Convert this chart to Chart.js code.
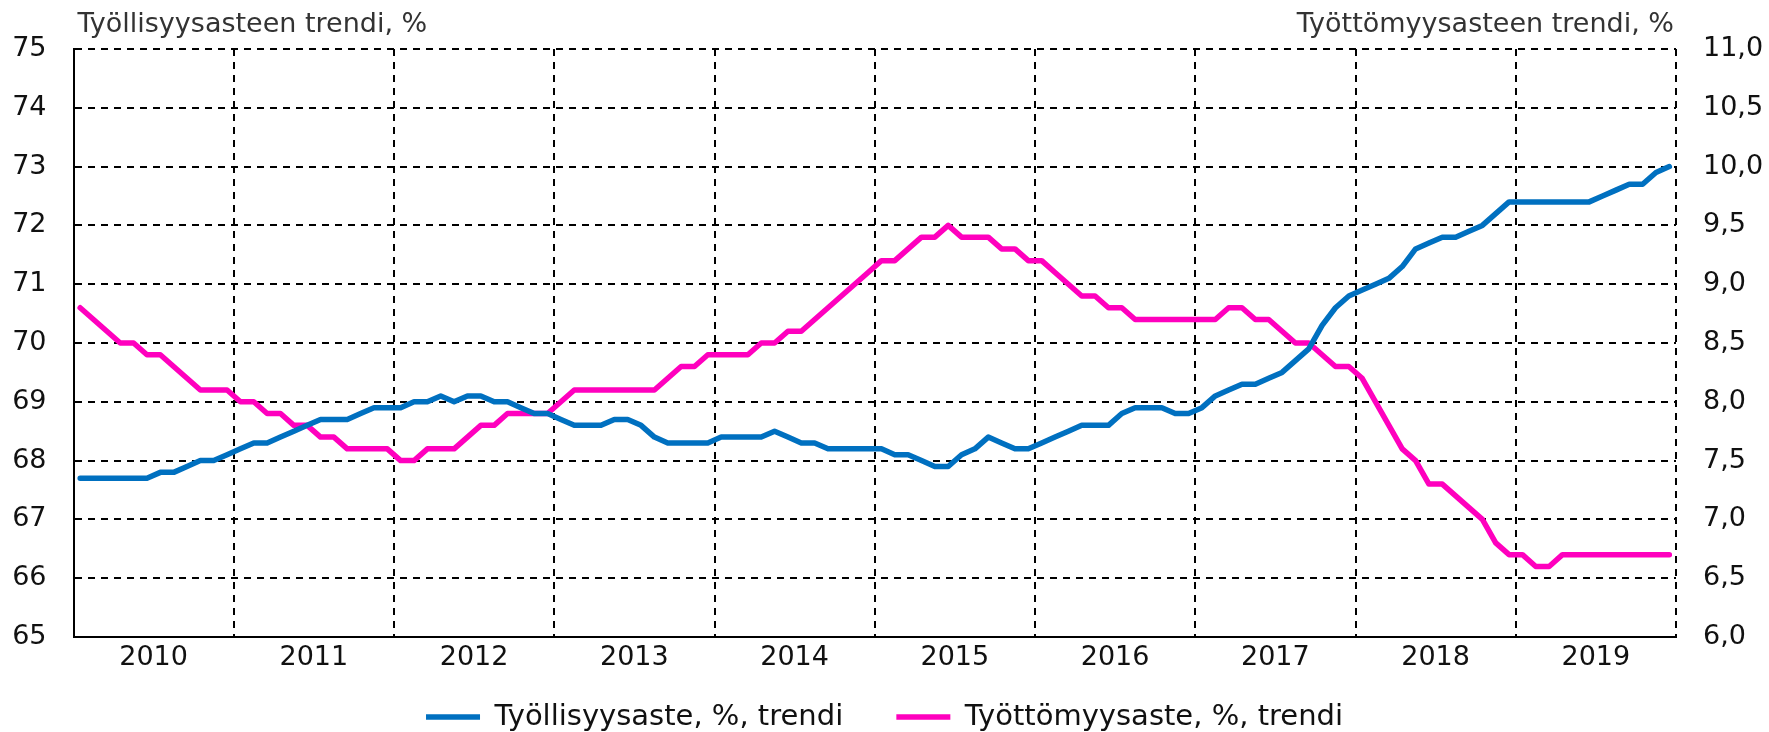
<!DOCTYPE html>
<html>
<head>
<meta charset="utf-8">
<script src="https://cdn.jsdelivr.net/npm/chart.js@4/dist/chart.umd.min.js"></script>
<style>
  html, body { margin: 0; padding: 0; background: #fff; }
  #wrap { width: 1769px; height: 732px; }
</style>
</head>
<body>
<div id="wrap"><canvas id="chart"></canvas></div>
<script>
// years on the x axis, one point per month
var years = [2010, 2011, 2012, 2013, 2014, 2015, 2016, 2017, 2018, 2019];

// Työllisyysaste, %, trendi (left axis)
var employment = [
  67.7, 67.7, 67.7, 67.7, 67.7, 67.7, 67.8, 67.8, 67.9, 68.0, 68.0, 68.1,
  68.2, 68.3, 68.3, 68.4, 68.5, 68.6, 68.7, 68.7, 68.7, 68.8, 68.9, 68.9,
  68.9, 69.0, 69.0, 69.1, 69.0, 69.1, 69.1, 69.0, 69.0, 68.9, 68.8, 68.8,
  68.7, 68.6, 68.6, 68.6, 68.7, 68.7, 68.6, 68.4, 68.3, 68.3, 68.3, 68.3,
  68.4, 68.4, 68.4, 68.4, 68.5, 68.4, 68.3, 68.3, 68.2, 68.2, 68.2, 68.2,
  68.2, 68.1, 68.1, 68.0, 67.9, 67.9, 68.1, 68.2, 68.4, 68.3, 68.2, 68.2,
  68.3, 68.4, 68.5, 68.6, 68.6, 68.6, 68.8, 68.9, 68.9, 68.9, 68.8, 68.8,
  68.9, 69.1, 69.2, 69.3, 69.3, 69.4, 69.5, 69.7, 69.9, 70.3, 70.6, 70.8,
  70.9, 71.0, 71.1, 71.3, 71.6, 71.7, 71.8, 71.8, 71.9, 72.0, 72.2, 72.4,
  72.4, 72.4, 72.4, 72.4, 72.4, 72.4, 72.5, 72.6, 72.7, 72.7, 72.9, 73.0
];

// Työttömyysaste, %, trendi (right axis)
var unemployment = [
  8.8, 8.7, 8.6, 8.5, 8.5, 8.4, 8.4, 8.3, 8.2, 8.1, 8.1, 8.1,
  8.0, 8.0, 7.9, 7.9, 7.8, 7.8, 7.7, 7.7, 7.6, 7.6, 7.6, 7.6,
  7.5, 7.5, 7.6, 7.6, 7.6, 7.7, 7.8, 7.8, 7.9, 7.9, 7.9, 7.9,
  8.0, 8.1, 8.1, 8.1, 8.1, 8.1, 8.1, 8.1, 8.2, 8.3, 8.3, 8.4,
  8.4, 8.4, 8.4, 8.5, 8.5, 8.6, 8.6, 8.7, 8.8, 8.9, 9.0, 9.1,
  9.2, 9.2, 9.3, 9.4, 9.4, 9.5, 9.4, 9.4, 9.4, 9.3, 9.3, 9.2,
  9.2, 9.1, 9.0, 8.9, 8.9, 8.8, 8.8, 8.7, 8.7, 8.7, 8.7, 8.7,
  8.7, 8.7, 8.8, 8.8, 8.7, 8.7, 8.6, 8.5, 8.5, 8.4, 8.3, 8.3,
  8.2, 8.0, 7.8, 7.6, 7.5, 7.3, 7.3, 7.2, 7.1, 7.0, 6.8, 6.7,
  6.7, 6.6, 6.6, 6.7, 6.7, 6.7, 6.7, 6.7, 6.7, 6.7, 6.7, 6.7
];

var seriesNames = ['Työllisyysaste, %, trendi', 'Työttömyysaste, %, trendi'];
var leftTitle = 'Työllisyysasteen trendi, %';
var rightTitle = 'Työttömyysasteen trendi, %';

var months = [];
years.forEach(function (y) {
  for (var m = 1; m <= 12; m++) {
    months.push(y + 'M' + (m < 10 ? '0' + m : m));
  }
});

var FONT = '"DejaVu Sans", Verdana, sans-serif';
Chart.defaults.font.family = FONT;
Chart.defaults.font.size = 27;
Chart.defaults.color = '#111';

// the two axis captions above the plot
var topTitles = {
  id: 'topTitles',
  afterDraw: function (chart) {
    var ctx = chart.ctx;
    var a = chart.chartArea;
    ctx.save();
    ctx.font = '27px ' + FONT;
    ctx.fillStyle = '#333';
    ctx.textBaseline = 'alphabetic';
    ctx.textAlign = 'left';
    ctx.fillText(leftTitle, a.left + 4, 32);
    ctx.textAlign = 'right';
    ctx.fillText(rightTitle, a.right - 2, 32);
    ctx.restore();
  }
};

var dash = [7, 6];

new Chart(document.getElementById('chart'), {
  type: 'line',
  data: {
    labels: months,
    datasets: [
      {
        label: seriesNames[0],
        data: employment,
        yAxisID: 'y',
        borderColor: '#0070C0',
        backgroundColor: '#0070C0',
        borderWidth: 5.5,
        borderCapStyle: 'round',
        borderJoinStyle: 'round',
        pointRadius: 0,
        tension: 0
      },
      {
        label: seriesNames[1],
        data: unemployment,
        yAxisID: 'y2',
        borderColor: '#FF00BE',
        backgroundColor: '#FF00BE',
        borderWidth: 5.5,
        borderCapStyle: 'round',
        borderJoinStyle: 'round',
        pointRadius: 0,
        tension: 0
      }
    ]
  },
  options: {
    responsive: true,
    maintainAspectRatio: false,
    animation: false,
    layout: { padding: { top: 49, left: 0, right: 0, bottom: -9.5 } },
    plugins: {
      title: { display: false },
      tooltip: { enabled: false },
      legend: {
        display: true,
        position: 'bottom',
        labels: {
          usePointStyle: true,
          pointStyle: 'line',
          pointStyleWidth: 54,
          padding: 25.5,
          color: '#111',
          font: { size: 29 },
          generateLabels: function (chart) {
            var items = Chart.defaults.plugins.legend.labels.generateLabels(chart);
            // wider gap between the two entries
            items[0].text += '   ';
            return items;
          }
        }
      }
    },
    scales: {
      x: {
        type: 'category',
        offset: true,
        grid: {
          offset: true,
          drawTicks: false,
          lineWidth: 2,
          color: function (c) {
            return (c.index === undefined || c.index % 12 === 0) ? '#000' : 'rgba(0,0,0,0)';
          }
        },
        border: { display: true, color: '#000', width: 2, dash: dash },
        ticks: {
          autoSkip: false,
          maxRotation: 0,
          padding: 5,
          labelOffset: -6.7,
          color: '#111',
          callback: function (v, i) {
            return i % 12 === 6 ? String(years[Math.floor(i / 12)]) : '';
          }
        },
        afterFit: function (s) { s.height = 40; }
      },
      y: {
        position: 'left',
        min: 65,
        max: 75,
        ticks: { stepSize: 1, padding: 27, color: '#111' },
        grid: { color: '#000', lineWidth: 2, drawTicks: false },
        border: { display: true, color: '#000', width: 2, dash: dash },
        afterFit: function (s) { s.width = 73.5; }
      },
      y2: {
        position: 'right',
        min: 6,
        max: 11,
        ticks: {
          stepSize: 0.5,
          padding: 27,
          color: '#111',
          callback: function (v) { return v.toFixed(1).replace('.', ','); }
        },
        grid: { display: false, drawTicks: false },
        border: { display: false },
        afterFit: function (s) { s.width = 93; }
      }
    }
  },
  plugins: [topTitles]
});
</script>
</body>
</html>
